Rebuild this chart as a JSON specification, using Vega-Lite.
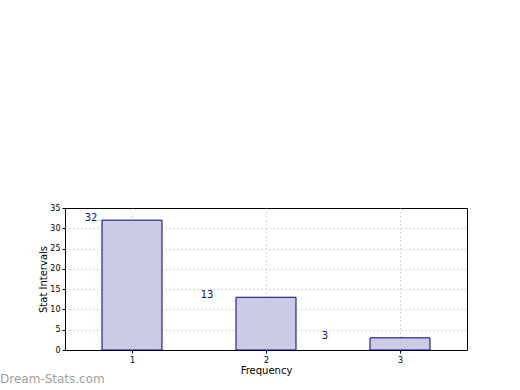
{
  "$schema": "https://vega.github.io/schema/vega-lite/v6.json",
  "autosize": {"type": "none"},
  "width": 402,
  "height": 142,
  "padding": {"left": 65, "top": 208, "right": 53, "bottom": 40},
  "background": "white",
  "config": {
    "font": "DejaVu Sans",
    "view": {"stroke": "black", "strokeWidth": 1},
    "axis": {
      "domain": false,
      "grid": true,
      "gridColor": "#b0b0b0",
      "gridDash": [1, 3],
      "gridWidth": 1,
      "tickColor": "black",
      "tickSize": 3,
      "labelFont": "DejaVu Sans",
      "labelFontSize": 8,
      "labelColor": "black",
      "titleFont": "DejaVu Sans",
      "titleFontSize": 10,
      "titleFontWeight": "normal",
      "titleColor": "black"
    }
  },
  "title": {
    "text": "Dream-Stats.com",
    "orient": "bottom",
    "anchor": "start",
    "frame": "group",
    "dx": -65,
    "dy": -3,
    "offset": 2,
    "fontSize": 12,
    "font": "DejaVu Sans",
    "fontWeight": "normal",
    "color": "#a0a0a0"
  },
  "data": {
    "values": [
      {"freq": 1, "count": 32},
      {"freq": 2, "count": 13},
      {"freq": 3, "count": 3}
    ]
  },
  "encoding": {
    "x": {
      "field": "freq",
      "type": "quantitative",
      "scale": {"domain": [0.5, 3.5], "nice": false, "zero": false, "padding": 0},
      "axis": {"values": [1, 2, 3], "title": "Frequency", "titlePadding": 1, "labelPadding": 3}
    },
    "y": {
      "field": "count",
      "type": "quantitative",
      "scale": {"domain": [0, 35], "nice": false, "padding": 0},
      "axis": {
        "values": [0, 5, 10, 15, 20, 25, 30, 35],
        "title": "Stat Intervals",
        "titlePadding": 1,
        "labelPadding": 2,
        "gridOpacity": {"condition": {"test": "datum.value == 35 || datum.value == 0", "value": 0}, "value": 1}
      }
    }
  },
  "layer": [
    {
      "mark": {"type": "bar", "width": 60, "fill": "#cbcbe3", "stroke": "#000080", "strokeWidth": 1}
    },
    {
      "transform": [{"filter": "datum.freq == 1"}],
      "mark": {"type": "text", "dx": -41, "dy": 1, "baseline": "alphabetic", "fontSize": 10, "color": "#10107a", "font": "DejaVu Sans"},
      "encoding": {"text": {"field": "count", "type": "quantitative"}}
    },
    {
      "transform": [{"filter": "datum.freq == 2"}],
      "mark": {"type": "text", "dx": -59, "dy": 1, "baseline": "alphabetic", "fontSize": 10, "color": "#10107a", "font": "DejaVu Sans"},
      "encoding": {"text": {"field": "count", "type": "quantitative"}}
    },
    {
      "transform": [{"filter": "datum.freq == 3"}],
      "mark": {"type": "text", "dx": -75, "dy": 1, "baseline": "alphabetic", "fontSize": 10, "color": "#10107a", "font": "DejaVu Sans"},
      "encoding": {"text": {"field": "count", "type": "quantitative"}}
    }
  ]
}
